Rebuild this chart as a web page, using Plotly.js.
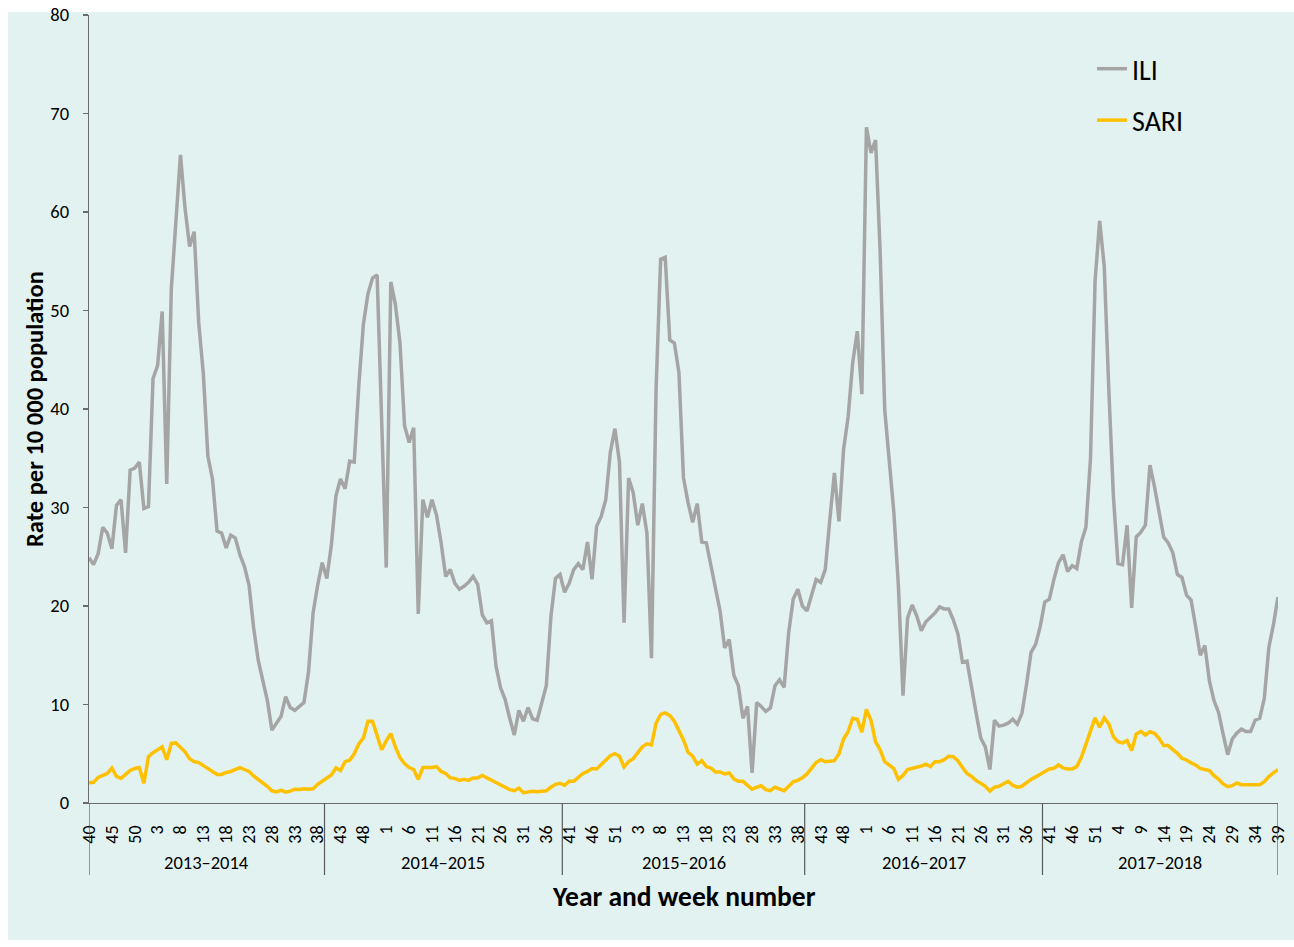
<!DOCTYPE html>
<html>
<head>
<meta charset="utf-8">
<script src="https://cdn.plot.ly/plotly-3.0.1.min.js"></script>
<style>
  html, body { margin: 0; padding: 0; background: #ffffff; }
  #chart { width: 1294px; height: 947px; }
</style>
</head>
<body>
<div id="chart"></div>
<script>
// Seasons (week 40 to week 39) and number of weeks in each
const seasons = ['2013–2014', '2014–2015', '2015–2016', '2016–2017', '2017–2018'];
const seasonLengths = [52, 52, 53, 52, 52];

// Tick labels shown every 5 weeks (week numbers)
const tickLabels = [
  '40','45','50','3','8','13','18','23','28','33','38',
  '43','48','1','6','11','16','21','26','31','36',
  '41','46','51','3','8','13','18','23','28','33','38',
  '43','48','1','6','11','16','21','26','31','36',
  '41','46','51','4','9','14','19','24','29','34','39'
];

// ILI rate per 10 000 population, by week
const ili2013 = [24.9,24.2,25.3,28.0,27.4,25.8,30.2,30.8,25.4,33.8,
  34.0,34.6,29.9,30.1,43.1,44.4,49.9,32.4,52.2,59.0,
  65.8,60.4,56.5,58.0,48.7,43.6,35.2,32.9,27.6,27.4,
  25.9,27.2,26.9,25.2,24.0,22.1,17.8,14.5,12.5,10.4,
  7.4,8.1,8.8,10.8,9.7,9.4,9.8,10.2,13.3,19.3,
  22.1,24.4];
const ili2014 = [22.8,26.2,31.2,32.9,31.9,34.7,34.6,42.4,48.6,51.7,
  53.3,53.6,38.8,23.9,52.9,50.6,46.7,38.3,36.6,38.1,
  19.2,30.8,29.0,30.8,29.2,26.4,23.0,23.7,22.3,21.7,
  22.0,22.4,23.0,22.2,19.1,18.3,18.5,13.9,11.7,10.5,
  8.6,6.9,9.4,8.3,9.7,8.55,8.4,10.2,11.9,18.9,
  22.8,23.2];
const ili2015 = [21.4,22.3,23.7,24.3,23.7,26.5,22.7,28.1,29.1,30.8,
  35.6,38.0,34.6,18.3,33.0,31.5,28.2,30.4,27.4,14.7,
  42.0,55.2,55.4,47.0,46.7,43.7,33.0,30.5,28.5,30.4,
  26.5,26.4,24.1,21.7,19.5,15.75,16.6,13.0,11.9,8.6,
  9.8,3.05,10.2,9.8,9.3,9.65,11.9,12.5,11.75,17.3,
  20.7,21.7,20.0];
const ili2016 = [19.5,21.1,22.7,22.4,23.7,28.8,33.5,28.6,35.9,39.2,
  44.7,47.9,41.5,68.6,66.0,67.3,56.0,39.9,34.9,29.5,
  22.0,10.9,18.8,20.1,19.0,17.5,18.4,18.8,19.3,19.9,
  19.7,19.7,18.6,17.2,14.3,14.4,11.6,9.1,6.6,5.7,
  3.4,8.4,7.8,7.9,8.1,8.5,8.0,9.1,12.0,15.3,
  16.1,17.9];
const ili2017 = [20.4,20.7,22.7,24.4,25.2,23.5,24.1,23.8,26.5,28.0,
  35.0,53.0,59.1,54.5,42.0,31.2,24.3,24.2,28.2,19.8,
  27.0,27.5,28.2,34.3,32.1,29.7,27.0,26.4,25.4,23.2,
  22.9,21.1,20.6,17.9,15.0,16.0,12.4,10.4,9.2,7.0,
  4.9,6.5,7.1,7.5,7.25,7.25,8.4,8.6,10.6,15.8,
  18.1,20.9];

// SARI rate per 10 000 population, by week
const sari2013 = [2.06,2.1,2.6,2.8,3.0,3.55,2.7,2.5,2.95,3.3,
  3.5,3.6,2.0,4.7,5.1,5.4,5.7,4.4,6.05,6.1,
  5.6,5.2,4.5,4.2,4.1,3.8,3.5,3.2,2.9,2.9,
  3.1,3.2,3.4,3.6,3.4,3.2,2.75,2.4,2.06,1.7,
  1.24,1.13,1.3,1.1,1.2,1.4,1.37,1.44,1.4,1.44,
  1.9,2.2];
const sari2014 = [2.55,2.85,3.56,3.3,4.2,4.35,5.0,6.0,6.6,8.3,
  8.3,6.9,5.4,6.3,7.05,5.7,4.6,4.0,3.6,3.4,
  2.4,3.6,3.56,3.6,3.7,3.2,3.0,2.55,2.5,2.3,
  2.4,2.3,2.55,2.55,2.8,2.55,2.25,2.05,1.8,1.6,
  1.35,1.25,1.5,1.05,1.15,1.2,1.15,1.2,1.25,1.6,
  1.9,2.0];
const sari2015 = [1.8,2.2,2.2,2.6,3.0,3.2,3.5,3.45,3.9,4.4,
  4.8,5.0,4.75,3.65,4.2,4.5,5.1,5.7,6.0,5.9,
  8.1,9.0,9.15,8.9,8.3,7.3,6.4,5.15,4.75,3.95,
  4.3,3.7,3.55,3.15,3.15,2.95,3.05,2.45,2.2,2.2,
  1.75,1.4,1.6,1.75,1.35,1.25,1.6,1.45,1.25,1.7,
  2.15,2.3,2.55];
const sari2016 = [2.95,3.5,4.1,4.4,4.2,4.25,4.3,5.0,6.5,7.25,
  8.6,8.5,7.2,9.5,8.4,6.2,5.4,4.2,3.85,3.5,
  2.4,2.8,3.4,3.5,3.6,3.75,3.95,3.7,4.2,4.2,
  4.4,4.75,4.7,4.3,3.6,3.0,2.7,2.27,2.0,1.7,
  1.2,1.6,1.7,1.95,2.2,1.8,1.6,1.7,2.1,2.4,
  2.65,2.9];
const sari2017 = [3.18,3.46,3.52,3.86,3.56,3.46,3.46,3.69,4.64,6.0,
  7.35,8.64,7.69,8.64,8.03,6.74,6.23,6.1,6.33,5.32,
  7.0,7.28,6.91,7.25,7.08,6.57,5.83,5.83,5.42,5.05,
  4.54,4.37,4.07,3.86,3.52,3.39,3.29,2.78,2.44,1.93,
  1.66,1.76,2.03,1.86,1.86,1.86,1.86,1.86,2.17,2.68,
  3.05,3.39];

const ili = [].concat(ili2013, ili2014, ili2015, ili2016, ili2017);
const sari = [].concat(sari2013, sari2014, sari2015, sari2016, sari2017);
const xIdx = ili.map((_, i) => i);
const lastIdx = ili.length - 1;
const tickVals = tickLabels.map((_, k) => k * 5);

// season boundaries and label centres
const bounds = [0];
let acc = 0;
seasonLengths.forEach((n, k) => {
  acc += n;
  bounds.push(k === seasonLengths.length - 1 ? lastIdx : acc - 0.5);
});

const FONT = 'Carlito, Lato, "Liberation Sans", sans-serif';
const TEAL = '#e2f2f0';

// layout geometry
const W = 1294, H = 947;
const M = {l: 89, r: 16, t: 15, b: 144};
const PW = W - M.l - M.r, PH = H - M.t - M.b;
const px2x = p => (p - M.l) / PW;
const py2y = p => (H - M.b - p) / PH;

const shapes = [{
  type: 'rect', xref: 'paper', yref: 'paper', layer: 'below',
  x0: px2x(8), x1: px2x(1294), y0: py2y(940), y1: py2y(12),
  fillcolor: TEAL, line: {width: 0}
}];
bounds.forEach(b => shapes.push({
  type: 'line', xref: 'x', yref: 'paper',
  x0: b, x1: b, y0: 0, y1: py2y(875),
  line: {color: '#595959', width: 1.2}
}));

const annotations = seasons.map((s, k) => ({
  text: s, xref: 'x', yref: 'paper',
  x: (bounds[k] + bounds[k + 1]) / 2, y: py2y(862),
  xanchor: 'center', yanchor: 'middle', showarrow: false,
  font: {family: FONT, size: 18.5, color: '#000'}
}));
annotations.push({
  text: '<b>Year and week number</b>', xref: 'paper', yref: 'paper',
  x: 0.5, y: py2y(896), xanchor: 'center', yanchor: 'middle', showarrow: false,
  font: {family: FONT, size: 27.5, color: '#000'}
});
annotations.push({
  text: '<b>Rate per 10 000 population</b>', xref: 'paper', yref: 'paper',
  x: px2x(35), y: 0.5, xanchor: 'center', yanchor: 'middle', showarrow: false,
  textangle: -90,
  font: {family: FONT, size: 24.5, color: '#000'}
});

const traces = [
  {x: xIdx, y: ili, type: 'scatter', mode: 'lines', name: 'ILI', legendgroup: 'a',
   line: {color: '#a5a5a5', width: 3.5}},
  {x: xIdx, y: sari, type: 'scatter', mode: 'lines', name: 'SARI', legendgroup: 'b',
   line: {color: '#ffc000', width: 3.5}}
];

const layout = {
  width: W, height: H,
  margin: M,
  paper_bgcolor: '#ffffff',
  plot_bgcolor: 'rgba(0,0,0,0)',
  font: {family: FONT, color: '#000'},
  showlegend: true,
  legend: {
    x: px2x(1092), y: py2y(44), xanchor: 'left', yanchor: 'top',
    bgcolor: 'rgba(0,0,0,0)', font: {family: FONT, size: 28, color: '#000'},
    tracegroupgap: 12, traceorder: 'grouped'
  },
  xaxis: {
    range: [0, lastIdx], showgrid: false, zeroline: false,
    showline: true, linecolor: '#6b6b6b', linewidth: 1.2,
    tickmode: 'array', tickvals: tickVals, ticktext: tickLabels,
    tickangle: -90, ticks: '', ticklabelstandoff: 14,
    tickfont: {family: FONT, size: 18, color: '#000'}
  },
  yaxis: {
    range: [0, 80], showgrid: false, zeroline: false,
    showline: true, linecolor: '#6b6b6b', linewidth: 1.2,
    tickvals: [0,10,20,30,40,50,60,70,80],
    ticks: 'outside', ticklen: 5, tickcolor: '#6b6b6b', tickwidth: 1.2,
    ticklabelstandoff: 10,
    tickfont: {family: FONT, size: 18.5, color: '#000'}
  },
  shapes: shapes,
  annotations: annotations
};

Plotly.newPlot('chart', traces, layout, {displayModeBar: false, staticPlot: true});
</script>
</body>
</html>
